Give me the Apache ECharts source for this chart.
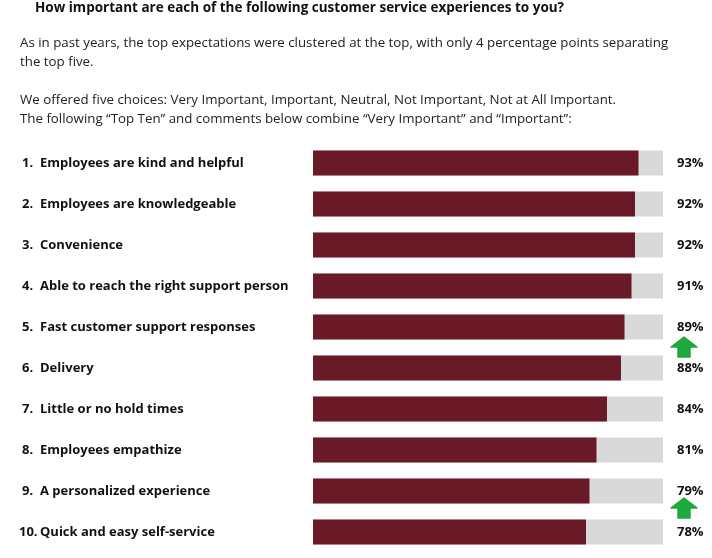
<!DOCTYPE html>
<html><head><meta charset="utf-8">
<script src="https://cdn.jsdelivr.net/npm/echarts@6/dist/echarts.min.js"></script>
<style>html,body{margin:0;padding:0;background:#fff}#c{width:712px;height:558px}</style>
</head><body><div id="c"></div>
<script>
const ranks = ['1.', '2.', '3.', '4.', '5.', '6.', '7.', '8.', '9.', '10.'];
const categories = ['Employees are kind and helpful', 'Employees are knowledgeable', 'Convenience', 'Able to reach the right support person', 'Fast customer support responses', 'Delivery', 'Little or no hold times', 'Employees empathize', 'A personalized experience', 'Quick and easy self-service'];
const values = [93, 92, 92, 91, 89, 88, 84, 81, 79, 78];
const fullScale = [100, 100, 100, 100, 100, 100, 100, 100, 100, 100];

const FONT = '"Open Sans", sans-serif';
const chart = echarts.init(document.getElementById('c'));
function arrow(cx, top) {
  return {
    type: 'polygon', z: 10,
    shape: { points: [[cx, top], [cx + 13, top + 10], [cx + 6, top + 10], [cx + 6, top + 20], [cx - 6, top + 20], [cx - 6, top + 10], [cx - 13, top + 10]] },
    style: { fill: '#1fa83c', stroke: '#1fa83c', lineWidth: 1.5, lineJoin: 'round' }
  };
}
const lbl = { fontWeight: 'bold', fontSize: 13, fontFamily: FONT, color: '#111' };
chart.setOption({
  animation: false,
  graphic: [
    { type: 'text', left: 35, top: 1, style: { text: 'How important are each of the following customer service experiences to you?', font: 'bold 13.5px ' + FONT, fill: '#111' } },
    { type: 'text', left: 20, top: 34, style: { text: 'As in past years, the top expectations were clustered at the top, with only 4 percentage points separating\nthe top five.', font: '13.3px ' + FONT, fill: '#222', lineHeight: 19 } },
    { type: 'text', left: 20, top: 91, style: { text: 'We offered five choices: Very Important, Important, Neutral, Not Important, Not at All Important.\nThe following \u201cTop Ten\u201d and comments below combine \u201cVery Important\u201d and \u201cImportant\u201d:', font: '13.3px ' + FONT, fill: '#222', lineHeight: 19 } },
    arrow(684, 337),
    arrow(684, 498)
  ],
  grid: { left: 313, width: 350, top: 142.5, height: 410 },
  xAxis: { type: 'value', min: 0, max: 100, show: false },
  yAxis: {
    type: 'category', inverse: true, data: categories,
    axisLine: { show: false }, axisTick: { show: false },
    axisLabel: {
      align: 'left', margin: 294,
      formatter: (v, i) => (ranks[i].length > 2 ? '{m|' : '{n|') + ranks[i] + '}{t|' + v + '}',
      rich: {
        n: Object.assign({ width: 18, padding: [0, 0, 0, 3] }, lbl),
        m: Object.assign({ width: 21 }, lbl),
        t: lbl
      }
    }
  },
  series: [
    {
      type: 'bar', data: fullScale, barWidth: 25, silent: true,
      itemStyle: { color: '#d9d9d9' },
      label: Object.assign({ show: true, position: 'right', distance: 14, formatter: p => values[p.dataIndex] + '%' }, lbl)
    },
    {
      type: 'bar', data: values, barWidth: 25, barGap: '-100%',
      itemStyle: { color: '#6a1926' }
    }
  ]
});
</script></body></html>
